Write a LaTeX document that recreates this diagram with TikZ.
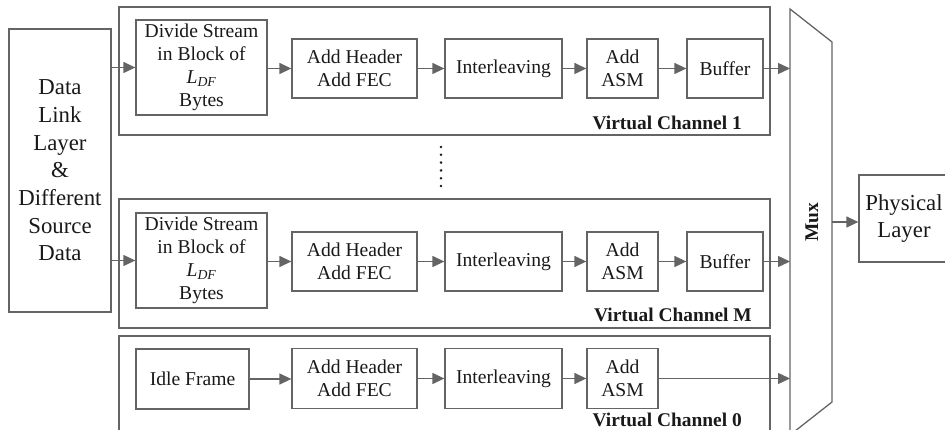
\documentclass[tikz,border=0pt]{standalone}
\usepackage{fontspec}
\setmainfont{Liberation Serif}
\usetikzlibrary{arrows.meta}
\definecolor{linegray}{RGB}{100,100,100}
\definecolor{inkgray}{RGB}{25,25,25}

\begin{document}
\begin{tikzpicture}[x=1pt,y=-1pt,
  every node/.style={text=inkgray},
  blk/.style={draw=linegray, line width=1.3pt, align=center, inner sep=0pt,
              font=\fontsize{19.6}{23}\selectfont},
  bigblk/.style={blk, font=\fontsize{22.8}{27.7}\selectfont},
  chframe/.style={draw=linegray, line width=1.3pt, inner sep=0pt},
  flow/.style={draw=linegray, line width=1.3pt, -{Triangle[length=12pt,width=11pt]}},
  chlabel/.style={anchor=east, inner sep=0pt, font=\fontsize{19.4}{23}\selectfont\bfseries},
  wdiv/.style={minimum width=131pt, minimum height=95pt},
  whdr/.style={minimum width=125pt, minimum height=59pt},
  wint/.style={minimum width=117pt, minimum height=59pt},
  wasm/.style={minimum width=71pt, minimum height=59pt},
  wbuf/.style={minimum width=76pt, minimum height=59pt}]

\useasboundingbox (0,0) rectangle (945,430);

% source block
\node[bigblk, minimum width=102pt, minimum height=283pt] (data) at (60,170.5)
  {Data\\Link\\Layer\\\&\\Different\\Source\\Data};

% channel frames
\node[chframe, minimum width=651pt, minimum height=128pt] (vc1) at (444.5,71) {};
\node[chframe, minimum width=651pt, minimum height=129pt] (vcM) at (444.5,263.5) {};
\coordinate (vc0tl) at (119,336);
\coordinate (vc0tr) at (770,336);
\draw[draw=linegray, line width=1.3pt] (vc0tl |- 0,440) -- (vc0tl) -- (vc0tr) -- (vc0tr |- 0,440);

\node[chlabel] (lab1) at (742,123) {Virtual Channel 1};
\node[chlabel] (labM) at (752,315) {Virtual Channel M};
\node[chlabel] (lab0) at (742,420) {Virtual Channel 0};

% multiplexer
\coordinate (muxW) at (790,222);
\coordinate (muxE) at (832,222);
\draw[draw=linegray, line width=1.3pt] (790,9) -- (832,42) -- (832,402) -- (790,435) -- cycle;
\node[rotate=90, font=\fontsize{19.4}{23}\selectfont\bfseries] (mux) at (812,222) {Mux};

% physical layer
\node[bigblk, minimum width=90pt, minimum height=87pt] (phy) at (904,218.5) {Physical\\Layer};
\draw[flow] (muxE) -- (phy.west |- muxE);

% channel 1
\node[blk, wdiv] (div1) at (201.5,67.5) {Divide Stream\\in Block of\\{\itshape L\textsubscript{DF}}\\Bytes};
\node[blk, whdr] (hdr1) at (354.5,68.5) {Add Header\\Add FEC};
\node[blk, wint] (int1) at (503.5,68.5) {Interleaving};
\node[blk, wasm] (asm1) at (622.5,68.5) {Add\\ASM};
\node[blk, wbuf] (buf1) at (725,68.5) {Buffer};
\draw[flow] (data.east |- div1.west) -- (div1.west);
\draw[flow] (div1.east |- hdr1.west) -- (hdr1.west);
\draw[flow] (hdr1) -- (int1);
\draw[flow] (int1) -- (asm1);
\draw[flow] (asm1) -- (buf1);
\draw[flow] (buf1.east) -- (buf1.east -| muxW);

% dots between channels
\foreach \k in {0,...,5} \fill[inkgray] (441,147+\k*7.8) circle (1.4pt);

% channel M
\node[blk, wdiv] (divM) at (201.5,260.5) {Divide Stream\\in Block of\\{\itshape L\textsubscript{DF}}\\Bytes};
\node[blk, whdr] (hdrM) at (354.5,261.5) {Add Header\\Add FEC};
\node[blk, wint] (intM) at (503.5,261.5) {Interleaving};
\node[blk, wasm] (asmM) at (622.5,261.5) {Add\\ASM};
\node[blk, wbuf] (bufM) at (725,261.5) {Buffer};
\draw[flow] (data.east |- divM.west) -- (divM.west);
\draw[flow] (divM.east |- hdrM.west) -- (hdrM.west);
\draw[flow] (hdrM) -- (intM);
\draw[flow] (intM) -- (asmM);
\draw[flow] (asmM) -- (bufM);
\draw[flow] (bufM.east) -- (bufM.east -| muxW);

% channel 0 (idle)
\node[blk, minimum width=113pt, minimum height=60pt] (idle) at (192.5,379) {Idle Frame};
\node[blk, minimum width=125pt, minimum height=60pt] (hdr0) at (354.5,378.5) {Add Header\\Add FEC};
\node[blk, minimum width=117pt, minimum height=60pt] (int0) at (503.5,378.5) {Interleaving};
\node[blk, minimum width=71pt, minimum height=60pt] (asm0) at (622.5,378.5) {Add\\ASM};
\draw[flow] (idle) -- (idle -| hdr0.west);
\draw[flow] (hdr0) -- (int0);
\draw[flow] (int0) -- (asm0);
\draw[flow] (asm0.east) -- (asm0.east -| muxW);
\end{tikzpicture}
\end{document}
